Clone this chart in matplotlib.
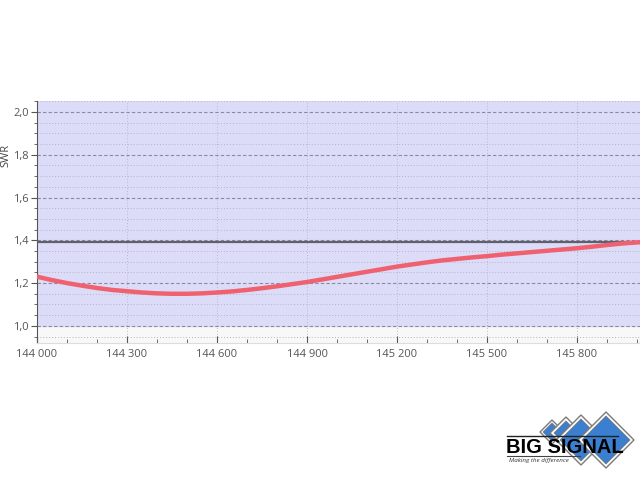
import numpy as np
import matplotlib
matplotlib.use("Agg")
import matplotlib.pyplot as plt
from matplotlib.ticker import MultipleLocator, FuncFormatter
from matplotlib.patches import Polygon

plt.rcParams["font.family"] = ["Open Sans", "DejaVu Sans"]

# SWR sweep (kHz, SWR)
freq_khz = [144000, 144050, 144100, 144150, 144200, 144250, 144300, 144350,
            144400, 144450, 144500, 144550, 144600, 144650, 144700, 144750,
            144800, 144850, 144900, 144950, 145000, 145050, 145100, 145150,
            145200, 145250, 145300, 145350, 145400, 145450, 145500, 145550,
            145600, 145650, 145700, 145750, 145800, 145850, 145900, 145950,
            146000, 146010]
swr = [1.230, 1.214, 1.200, 1.188, 1.177, 1.168, 1.162, 1.156,
       1.152, 1.150, 1.150, 1.152, 1.156, 1.161, 1.168, 1.176,
       1.185, 1.195, 1.205, 1.217, 1.229, 1.241, 1.253, 1.265,
       1.277, 1.287, 1.297, 1.306, 1.313, 1.320, 1.326, 1.333,
       1.339, 1.345, 1.351, 1.357, 1.363, 1.370, 1.378, 1.385,
       1.390, 1.391]
swr_limit = 1.39
band_low, band_high = 1.0, 2.05

W, H = 640, 480
fig = plt.figure(figsize=(6.4, 4.8), dpi=100)
fig.patch.set_facecolor("white")
ax = fig.add_axes([37 / W, 1 - 343 / H, 1 - 37 / W, (343 - 101) / H])
ax.set_facecolor("#f8f8f8")

ax.set_xlim(144000, 146010)
ax.set_ylim(0.92, 2.051)

ax.axhspan(band_low, band_high, color="#dcdcf8", zorder=0)

ax.xaxis.set_major_locator(MultipleLocator(300))
ax.xaxis.set_minor_locator(MultipleLocator(100))
ax.yaxis.set_major_locator(MultipleLocator(0.2))
ax.yaxis.set_minor_locator(MultipleLocator(0.05))
ax.xaxis.set_major_formatter(FuncFormatter(lambda v, p: f"{int(round(v)):,}".replace(",", " ")))
ax.yaxis.set_major_formatter(FuncFormatter(lambda v, p: f"{v:.1f}".replace(".", ",")))

ax.grid(which="major", axis="y", color="#8a8a9a", linestyle=(0, (3, 2)), linewidth=0.8)
ax.grid(which="minor", axis="y", color="#b4b4c4", linestyle=(0, (1, 2)), linewidth=0.7)
ax.grid(which="major", axis="x", color="#b8b8cc", linestyle=(0, (1, 2)), linewidth=0.7)
ax.set_axisbelow(True)

ax.axhline(swr_limit, color="#5f5f6e", linewidth=1.6, zorder=3)
ax.plot(freq_khz, swr, color="#f0616f", linewidth=3.2, solid_capstyle="round", zorder=4)

for s in ["top", "right"]:
    ax.spines[s].set_visible(False)
ax.spines["left"].set_color("#555555")
ax.spines["bottom"].set_color("#dddddd")

ax.tick_params(axis="y", which="major", direction="out", length=4, color="#555555",
               labelsize=8, labelcolor="#555555", pad=2)
ax.tick_params(axis="y", which="minor", direction="out", length=2, color="#555555")
ax.tick_params(axis="x", which="major", direction="in", length=5, color="#555555",
               labelsize=8, labelcolor="#555555", pad=4)
ax.tick_params(axis="x", which="minor", direction="in", length=3, color="#555555")

fig.text(6 / W, 1 - 155 / H, "SWR", rotation=90, ha="center", va="center",
         fontsize=8, color="#444444")

# logo
def px(x, y):
    return (x / W, 1 - y / H)

def diamond(cx, cy, r, face):
    pts = [px(cx, cy - r), px(cx + r, cy), px(cx, cy + r), px(cx - r, cy)]
    fig.patches.append(Polygon(pts, closed=True, transform=fig.transFigure,
                               facecolor="white", edgecolor="#7a7a7a", linewidth=1.0))
    k = 4 if r > 15 else 3
    pts2 = [px(cx, cy - r + k), px(cx + r - k, cy), px(cx, cy + r - k), px(cx - r + k, cy)]
    fig.patches.append(Polygon(pts2, closed=True, transform=fig.transFigure,
                               facecolor=face, edgecolor="#7a7a7a", linewidth=0.6))

diamond(552, 432, 12, "#3a7fd0")
diamond(566, 433, 16, "#3a7fd0")
diamond(581, 440, 25, "#3a7fd0")
diamond(606, 440, 28, "#3a7fd0")

fig.lines.append(plt.Line2D([507 / W, 618 / W], [1 - 436 / H] * 2, transform=fig.transFigure,
                            color="#222222", linewidth=1.0))
fig.text(506 / W, 1 - 453 / H, "BIG SIGNAL", fontsize=14.5, fontweight="bold",
         family=["Liberation Sans", "DejaVu Sans"], color="black", ha="left", va="baseline")
fig.lines.append(plt.Line2D([507 / W, 580 / W], [1 - 456 / H] * 2, transform=fig.transFigure,
                            color="#444444", linewidth=0.8))
fig.text(509 / W, 1 - 462 / H, "Making the difference", fontsize=4.5, style="italic",
         color="#333333", ha="left", va="baseline")

fig.savefig("out.png", dpi=100)
